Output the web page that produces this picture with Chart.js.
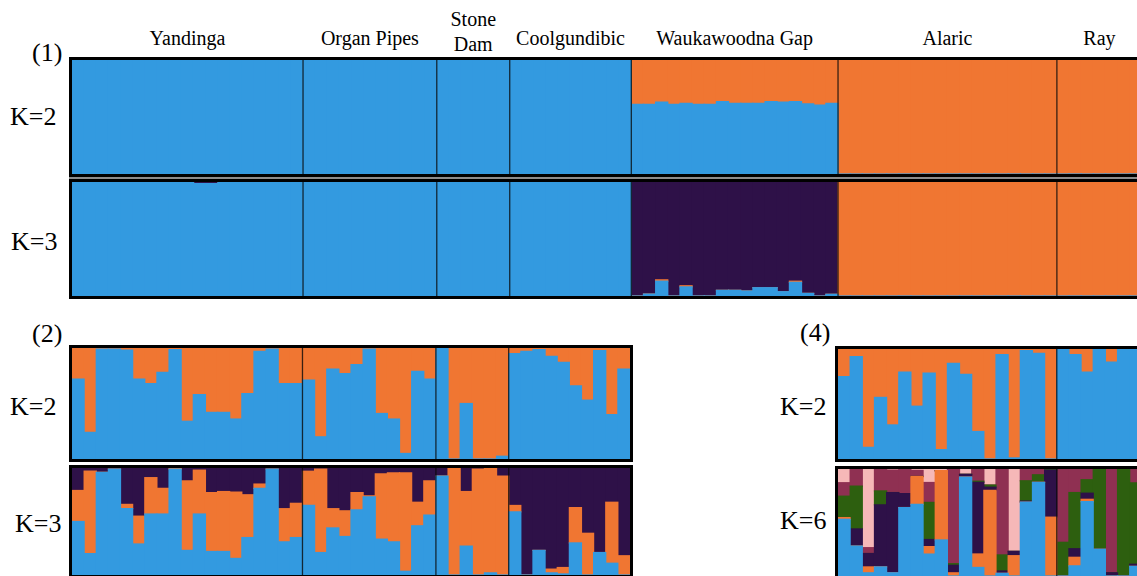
<!DOCTYPE html>
<html>
<head>
<meta charset="utf-8">
<script src="https://cdn.jsdelivr.net/npm/chart.js@4.4.1/dist/chart.umd.min.js"></script>
<style>
html, body { margin: 0; padding: 0; background: #fff; overflow: hidden; }
body { position: relative; width: 1137px; height: 576px; }
.lab { position: absolute; font-family: "Liberation Serif", "Times New Roman", serif; color: #000; white-space: nowrap; }
.pop { font-size: 20px; line-height: 20px; top: 28px; text-align: center; transform: translateX(-50%); }
.pop.two { line-height: 25px; top: 7px; }
.k { font-size: 26px; line-height: 26px; }
.box { position: absolute; border: 3px solid #000; }
.box canvas { display: block; }
.gap { position: absolute; background: #8c8c8c; }
</style>
</head>
<body>

<div class="gap" style="left:69px; top:176px; width:1080px; height:4px;"></div>

<div class="box" style="left:69px; top:57px;"><canvas id="p1k2" width="1070" height="114"></canvas></div>
<div class="box" style="left:69px; top:179px;"><canvas id="p1k3" width="1070" height="114"></canvas></div>

<div class="box" style="left:69px; top:345px;"><canvas id="p2k2" width="558" height="111"></canvas></div>
<div class="box" style="left:69px; top:465px;"><canvas id="p2k3" width="558" height="107"></canvas></div>

<div class="box" style="left:835px; top:346px;"><canvas id="p4k2" width="316" height="110"></canvas></div>
<div class="box" style="left:835px; top:466px;"><canvas id="p4k6" width="316" height="107"></canvas></div>

<div class="lab k" style="left:32px; top:40px;">(1)</div>
<div class="lab k" style="left:10px; top:104px;">K=2</div>
<div class="lab k" style="left:11px; top:229px;">K=3</div>
<div class="lab k" style="left:32px; top:321px;">(2)</div>
<div class="lab k" style="left:10px; top:394px;">K=2</div>
<div class="lab k" style="left:15px; top:511px;">K=3</div>
<div class="lab k" style="left:800px; top:320px;">(4)</div>
<div class="lab k" style="left:780px; top:394px;">K=2</div>
<div class="lab k" style="left:780px; top:508px;">K=6</div>

<script>
// populations (panel 1 and 2 share the first four)
const popNames = ['Yandinga', 'Organ Pipes', 'Stone\nDam', 'Coolgundibic', 'Waukawoodna Gap', 'Alaric', 'Ray'];
const popSizes = [19, 11, 6, 10, 17, 18, 7];
const popSizes4 = [18, 8];

// cluster colours
const cBlue = '#339ae0';
const cOrange = '#f07632';
const cPurple = '#2e1148';
const cGreen = '#2d5f0f';
const cMaroon = '#8f3052';
const cPink = '#f6b8b8';

// (1) K=2
const p1k2Blue = [
  1,1,1,1,1,1,1,1,1,1,1,1,1,1,1,1,1,1,1,
  1,1,1,1,1,1,1,1,1,1,1,
  1,1,1,1,1,1,
  1,1,1,1,1,1,1,1,1,1,
  0.61,0.61,0.63,0.61,0.62,0.61,0.61,0.635,0.62,0.62,0.62,0.635,0.63,0.635,0.615,0.605,0.62,
  0,0,0,0,0,0,0,0,0,0,0,0,0,0,0,0,0,0,
  0,0,0,0,0,0,0
];
const p1k2Orange = [
  0,0,0,0,0,0,0,0,0,0,0,0,0,0,0,0,0,0,0,
  0,0,0,0,0,0,0,0,0,0,0,
  0,0,0,0,0,0,
  0,0,0,0,0,0,0,0,0,0,
  0.39,0.39,0.37,0.39,0.38,0.39,0.39,0.365,0.38,0.38,0.38,0.365,0.37,0.365,0.385,0.395,0.38,
  1,1,1,1,1,1,1,1,1,1,1,1,1,1,1,1,1,1,
  1,1,1,1,1,1,1
];

// (1) K=3
const p1k3Blue = [
  1,1,1,1,1,1,1,1,1,1,0.985,0.985,1,1,1,1,1,1,1,
  1,1,1,1,1,1,1,1,1,1,1,
  1,1,1,1,1,1,
  1,1,1,1,1,1,1,1,1,1,
  0,0.017,0.13,0,0.08,0,0,0.05,0.05,0.044,0.073,0.073,0.038,0.12,0.023,0,0.015,
  0,0,0,0,0,0,0,0,0,0,0,0,0,0,0,0,0,0,
  0,0,0,0,0,0,0
];
const p1k3Orange = [
  0,0,0,0,0,0,0,0,0,0,0,0,0,0,0,0,0,0,0,
  0,0,0,0,0,0,0,0,0,0,0,
  0,0,0,0,0,0,
  0,0,0,0,0,0,0,0,0,0,
  0,0,0.012,0,0.01,0,0,0,0,0,0,0,0,0.01,0,0,0,
  1,1,1,1,1,1,1,1,1,1,1,1,1,1,1,1,1,1,
  1,1,1,1,1,1,1
];
const p1k3Purple = [
  0,0,0,0,0,0,0,0,0,0,0.015,0.015,0,0,0,0,0,0,0,
  0,0,0,0,0,0,0,0,0,0,0,
  0,0,0,0,0,0,
  0,0,0,0,0,0,0,0,0,0,
  1,0.983,0.858,1,0.91,1,1,0.95,0.95,0.956,0.927,0.927,0.962,0.87,0.977,1,0.985,
  0,0,0,0,0,0,0,0,0,0,0,0,0,0,0,0,0,0,
  0,0,0,0,0,0,0
];

// (2) K=2
const p2k2Blue = [
  0.72,0.24,0.99,0.99,0.98,0.72,0.68,0.78,0.985,0.34,0.58,0.42,0.42,0.36,0.59,0.97,0.99,0.68,0.68,
  0.71,0.20,0.81,0.77,0.85,0.99,0.41,0.36,0.05,0.79,0.72,
  1,0,0.50,0,0,0.025,
  0.95,0.97,0.985,0.925,0.87,0.66,0.53,0.976,0.40,0.81
];
const p2k2Orange = [
  0.28,0.76,0.01,0.01,0.02,0.28,0.32,0.22,0.015,0.66,0.42,0.58,0.58,0.64,0.41,0.03,0.01,0.32,0.32,
  0.29,0.80,0.19,0.23,0.15,0.01,0.59,0.64,0.95,0.21,0.28,
  0,1,0.50,1,1,0.975,
  0.05,0.03,0.015,0.075,0.13,0.34,0.47,0.024,0.60,0.19
];

// (2) K=3
const p2k3Blue = [
  0.50,0.20,0.96,0.99,0.62,0.29,0.57,0.57,0.99,0.23,0.57,0.22,0.22,0.155,0.35,0.81,0.99,0.31,0.35,
  0.65,0.21,0.44,0.36,0.61,0.73,0.335,0.31,0.035,0.46,0.56,
  0.925,0,0.27,0,0.02,0,
  0.59,0,0.23,0.02,0.01,0.30,0,0.21,0.11,0
];
const p2k3Orange = [
  0.29,0.77,0,0,0.04,0.26,0.34,0.24,0.01,0.65,0.41,0.55,0.56,0.62,0.40,0.04,0,0.31,0.32,
  0.32,0.78,0.18,0.24,0.16,0.01,0.61,0.645,0.92,0.22,0.32,
  0,1,0.51,0.99,0.98,0.925,
  0.06,0,0,0.035,0.06,0.33,0.39,0,0.57,0.18
];
const p2k3Purple = [
  0.21,0.03,0.04,0.01,0.34,0.45,0.09,0.19,0,0.12,0.02,0.23,0.22,0.225,0.25,0.15,0.01,0.38,0.33,
  0.03,0.01,0.38,0.40,0.23,0.26,0.055,0.045,0.045,0.32,0.12,
  0.075,0,0.22,0.01,0,0.075,
  0.35,1,0.77,0.945,0.93,0.37,0.61,0.79,0.32,0.82
];

// (4) K=2
const p4k2Blue = [
  0.75,0.93,0.106,0.56,0.31,0.79,0.48,0.78,0.085,0.87,0.77,0.25,0,0.95,0.01,0.985,0.96,0,
  1,0.95,0.79,1,0.88,1,1,1
];
const p4k2Orange = [
  0.25,0.07,0.894,0.44,0.69,0.21,0.52,0.22,0.915,0.13,0.23,0.75,1,0.05,0.99,0.015,0.04,1,
  0,0.05,0.21,0,0.12,0,0,0
];

// (4) K=6
const p4k6Blue = [
  0.53,0.28,0.03,0.085,0.03,0.64,0.67,0.205,0.337,0,0.925,0.08,0,0.025,0,0.69,0.876,0,
  0,0.095,0.695,0.25,0,0,0.09,0.2
];
const p4k6Orange = [
  0.016,0,0.055,0,0,0,0.26,0.07,0.647,0.03,0,0.126,0.80,0,0.19,0,0,0.55,
  0,0.08,0.022,0,0,0,0,0
];
const p4k6Purple = [
  0,0.16,0.125,0.58,0.75,0.13,0,0.066,0,0.07,0.025,0.67,0.03,0.022,0.04,0.01,0,0.44,
  0,0.08,0.057,0,0.03,0,0.02,0
];
const p4k6Green = [
  0.20,0.40,0,0.13,0,0,0,0.347,0,0.015,0,0.01,0.02,0.15,0,0.19,0.07,0.01,
  0.315,0.525,0.126,0.75,0,1,0.76,0.5
];
const p4k6Maroon = [
  0.126,0.16,0.055,0.205,0.21,0.23,0.057,0.186,0,0.885,0,0.114,0,0.803,0,0.11,0.054,0,
  0.685,0.22,0.10,0,0.97,0,0.13,0.3
];
const p4k6Pink = [
  0.128,0,0.735,0,0.01,0,0.013,0.126,0.016,0,0.05,0,0.15,0,0.77,0,0,0,
  0,0,0,0,0,0,0,0
];

// bar index where each population ends
function cutsOf(sizes) {
  let out = [], s = 0;
  for (let i = 0; i < sizes.length - 1; i++) { s += sizes[i]; out.push(s); }
  return out;
}

const popLines = {
  id: 'popLines',
  afterDatasetsDraw(chart, args, opts) {
    const ctx = chart.ctx, x = chart.scales.x, a = chart.chartArea;
    ctx.save();
    ctx.strokeStyle = 'rgba(10,10,10,0.8)';
    ctx.lineWidth = 1.3;
    opts.cuts.forEach(function(c) {
      const px = (x.getPixelForValue(c - 1) + x.getPixelForValue(c)) / 2;
      ctx.beginPath();
      ctx.moveTo(px, a.top);
      ctx.lineTo(px, a.bottom);
      ctx.stroke();
    });
    ctx.restore();
  }
};

function structurePlot(id, series, cols, sizes) {
  const labels = [];
  for (let i = 0; i < series[0].length; i++) labels.push(i + 1);
  return new Chart(document.getElementById(id), {
    type: 'bar',
    data: {
      labels: labels,
      datasets: series.map(function(s, j) {
        return { data: s, backgroundColor: cols[j], borderWidth: 0, inflateAmount: 0.6,
                 barPercentage: 1, categoryPercentage: 1, stack: 'q' };
      })
    },
    options: {
      responsive: false,
      animation: false,
      layout: { padding: 0 },
      plugins: { legend: { display: false }, tooltip: { enabled: false }, popLines: { cuts: cutsOf(sizes) } },
      scales: {
        x: { display: false, stacked: true },
        y: { display: false, stacked: true, min: 0, max: 1 }
      }
    },
    plugins: [popLines]
  });
}

const p1 = structurePlot('p1k2', [p1k2Blue, p1k2Orange], [cBlue, cOrange], popSizes);
structurePlot('p1k3', [p1k3Blue, p1k3Orange, p1k3Purple], [cBlue, cOrange, cPurple], popSizes);
structurePlot('p2k2', [p2k2Blue, p2k2Orange], [cBlue, cOrange], popSizes.slice(0, 4));
structurePlot('p2k3', [p2k3Blue, p2k3Orange, p2k3Purple], [cBlue, cOrange, cPurple], popSizes.slice(0, 4));
structurePlot('p4k2', [p4k2Blue, p4k2Orange], [cBlue, cOrange], popSizes4);
structurePlot('p4k6', [p4k6Blue, p4k6Orange, p4k6Purple, p4k6Green, p4k6Maroon, p4k6Pink],
  [cBlue, cOrange, cPurple, cGreen, cMaroon, cPink], popSizes4);

// population names over panel (1)
let start = 0;
const left0 = 72;
popNames.forEach(function(name, i) {
  const end = start + popSizes[i] - 1;
  const cx = left0 + (p1.scales.x.getPixelForValue(start) + p1.scales.x.getPixelForValue(end)) / 2;
  const d = document.createElement('div');
  d.className = 'lab pop' + (name.indexOf('\n') >= 0 ? ' two' : '');
  d.innerHTML = name.split('\n').join('<br>');
  d.style.left = cx + 'px';
  document.body.appendChild(d);
  start += popSizes[i];
});
</script>
</body>
</html>
